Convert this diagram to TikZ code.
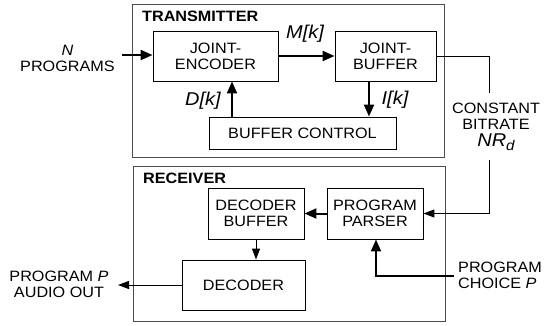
\documentclass[tikz,border=0pt]{standalone}
\usepackage{fontspec}
\setmainfont{Liberation Sans}[FakeStretch=1.08]
\usetikzlibrary{arrows.meta}
\begin{document}
\begin{tikzpicture}[x=1pt,y=-1pt,
  txt/.style={font=\fontsize{15}{16}\selectfont, align=center, inner sep=0pt},
  lbl/.style={font=\fontsize{18.5}{18.5}\selectfont\itshape, inner sep=0pt},
  ttl/.style={font=\fontsize{15}{16}\selectfont\bfseries, inner sep=0pt, anchor=west},
  outer/.style={draw=black!70, line width=1pt},
  blk/.style={draw, line width=0.9pt, txt},
  thk/.style={line width=2pt, -{Triangle[length=12pt,width=10pt]}},
  thn/.style={line width=1pt, -{Triangle[length=11pt,width=8pt]}},
  ln/.style={line width=1pt}]
\useasboundingbox (0,0) rectangle (544,325);
% outer boxes
\node[outer, minimum width=312pt, minimum height=153pt, inner sep=0pt] (tx) at (288,80.5) {};
\node[outer, minimum width=312pt, minimum height=155pt, inner sep=0pt] (rx) at (289,243.5) {};
\node[ttl] (txl) at (142,16) {TRANSMITTER};
\node[ttl] (rxl) at (143,178) {RECEIVER};
% blocks
\node[blk, minimum width=125pt, minimum height=50pt] (enc) at (215.5,56) {JOINT-\\ENCODER};
\node[blk, minimum width=101pt, minimum height=50pt] (buf) at (385.5,56) {JOINT-\\BUFFER};
\node[blk, minimum width=187pt, minimum height=32pt] (bc) at (302.5,133) {BUFFER CONTROL};
\node[blk, minimum width=96pt, minimum height=51pt] (dbuf) at (256,213.5) {DECODER\\BUFFER};
\node[blk, minimum width=96pt, minimum height=51pt] (par) at (375,213.5) {PROGRAM\\PARSER};
\node[blk, minimum width=123pt, minimum height=50pt] (dec) at (243.5,285) {DECODER};
% outside texts
\node[txt] (np) at (67.5,58) {\textit{N}\\PROGRAMS};
\node[txt] (cb) at (496,116) {CONSTANT\\BITRATE};
\node[lbl] (nr) at (496,142) {NR\raisebox{-3.5pt}{\fontsize{14}{14}\selectfont d}};
\node[txt] (po) at (59,284.5) {PROGRAM \textit{P}\\AUDIO OUT};
\node[txt, align=left, anchor=west] (pc) at (458,275.5) {PROGRAM\\CHOICE \textit{P}};
% labels
\node[lbl] (mk) at (305,34) {M[k]};
\node[lbl] (dk) at (203,101) {D[k]};
\node[lbl] (ik) at (395,100) {I[k]};
% coordinates
\coordinate (inx) at (122,55);
\coordinate (dx) at (232,0);
\coordinate (ix) at (369,0);
\coordinate (cbx) at (489,0);
\coordinate (cbtop) at (489,93);
\coordinate (cbbot) at (489,160);
\coordinate (pcx) at (454,276);
\coordinate (pcy) at (376,276);
\coordinate (outx) at (118,285);
% connectors
\draw[thk] (inx) -- (inx -| enc.west);
\draw[thk] (enc.east) -- (buf.west);
\draw[thk] (bc.north -| dx) -- (enc.south -| dx);
\draw[thk] (buf.south -| ix) -- (bc.north -| ix);
\draw[ln] (buf.east) -- (buf.east -| cbx) -- (cbtop);
\draw[thn] (cbbot) -- (cbbot |- par.east) -- (par.east);
\draw[thk] (par.west) -- (dbuf.east);
\draw[thn] (dbuf.south) -- (dbuf.south |- dec.north);
\draw[thn] (dec.west) -- (outx);
\draw[thk] (pcx) -- (pcy) -- (par.south -| pcy);
\end{tikzpicture}
\end{document}
